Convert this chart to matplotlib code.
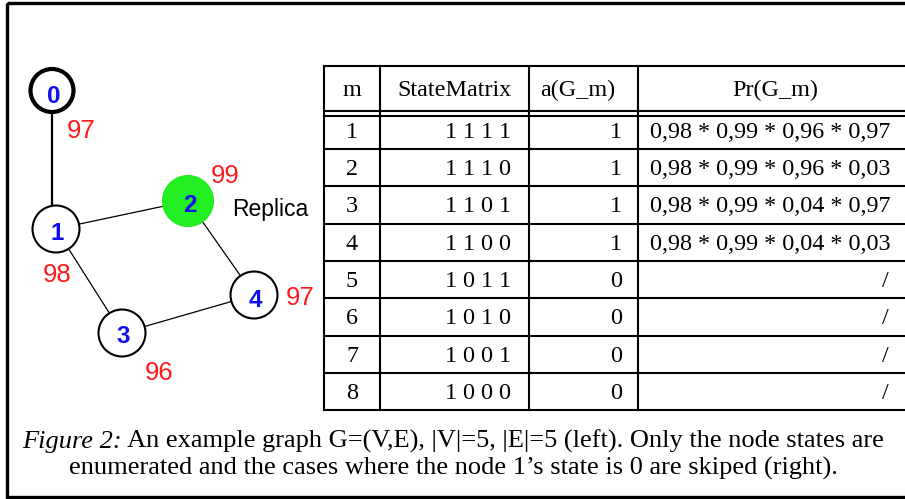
import matplotlib
matplotlib.use("Agg")
import matplotlib.pyplot as plt
from matplotlib.patches import Circle, Rectangle

# ---------------- data ----------------
node_ids = ["0", "1", "2", "3", "4"]
node_rel = ["97", "98", "99", "96", "97"]
edges = [("0", "1"), ("1", "2"), ("2", "4"), ("4", "3"), ("3", "1")]
replica_node = "2"
replica_label = "Replica"

col_headers = ["m", "StateMatrix", "a(G_m)", "Pr(G_m)"]
m_vals = ["1", "2", "3", "4", "5", "6", "7", "8"]
state_vals = ["1 1 1 1", "1 1 1 0", "1 1 0 1", "1 1 0 0",
              "1 0 1 1", "1 0 1 0", "1 0 0 1", "1 0 0 0"]
a_vals = ["1", "1", "1", "1", "0", "0", "0", "0"]
pr_vals = ["0,98 * 0,99 * 0,96 * 0,97", "0,98 * 0,99 * 0,96 * 0,03",
           "0,98 * 0,99 * 0,04 * 0,97", "0,98 * 0,99 * 0,04 * 0,03",
           "/", "/", "/", "/"]

caption_italic = "Figure 2:"
caption_line1 = " An example graph G=(V,E), |V|=5, |E|=5 (left). Only the node states are"
caption_line2 = "enumerated and the cases where the node 1\u2019s state is 0 are skiped (right)."

# ---------------- layout (pixel coordinates) ----------------
W, H = 905, 499
node_pos = {"0": (52, 90.5), "1": (56, 229), "2": (188, 201), "3": (122, 333), "4": (254, 295)}
node_r = {"0": 21.5, "1": 23.5, "2": 25, "3": 23.5, "4": 23.5}
digit_base = {"0": 103, "1": 240, "2": 212, "3": 343, "4": 307}
rel_pos = {"0": (81, 138), "1": (57, 282), "2": (225, 183), "3": (159, 380), "4": (300, 305)}

fig = plt.figure(figsize=(W / 100, H / 100), dpi=100)
ax = fig.add_axes([0, 0, 1, 1])
ax.set_xlim(0, W)
ax.set_ylim(H, 0)
ax.axis("off")

# outer frame
ax.add_patch(Rectangle((7, 3), 920, 494, fill=False, lw=2.4, ec="black"))

# edges
for a, b in edges:
    (x1, y1), (x2, y2) = node_pos[a], node_pos[b]
    lw = 1.6 if "0" in (a, b) else 0.9
    if "0" in (a, b):
        x2 = x1
    ax.plot([x1, x2], [y1, y2], color="black", lw=lw, zorder=1)

# nodes
for n in node_ids:
    x, y = node_pos[n]
    fc = "#22ee22" if n == replica_node else "white"
    ec = "#22ee22" if n == replica_node else "black"
    lw = 3.0 if n == "0" else 1.5
    ax.add_patch(Circle((x, y), node_r[n], fc=fc, ec=ec, lw=lw, zorder=2))
    ax.text(x + 1.5, digit_base[n], n, color="#1010ee", fontsize=17.5, fontweight="bold",
            family="Liberation Sans", ha="center", va="baseline", zorder=3)

for n, r in zip(node_ids, node_rel):
    x, y = rel_pos[n]
    ax.text(x, y, r, color="#ff1a1a", fontsize=18.5, family="Liberation Sans",
            ha="center", va="baseline")

ax.text(232, 216, replica_label, color="black", fontsize=16.5, family="Liberation Sans",
        ha="left", va="baseline")

# table
col_x = [324, 380, 529, 638]
top, head_bot, dbl = 66, 111, 116
row_lines = [dbl] + [149 + 37.3 * i for i in range(len(m_vals))]
bottom = row_lines[-1]

tlw = 1.5
for x in col_x:
    ax.plot([x, x], [top, bottom], color="black", lw=tlw, solid_capstyle="projecting")
for y in [top, head_bot] + row_lines:
    ax.plot([col_x[0], W + 10], [y, y], color="black", lw=tlw, solid_capstyle="projecting")

fs = 17.4
serif = "Liberation Serif"
head_cx = [352, 454.5, 578, 775]
for cx, h in zip(head_cx, col_headers):
    ax.text(cx, 96, h, fontsize=fs, family=serif, ha="center", va="baseline")

for i in range(len(m_vals)):
    yb = (row_lines[i] + row_lines[i + 1]) / 2 + 7.5
    if i == 0:
        yb = 138
    ax.text(352, yb, m_vals[i], fontsize=fs, family=serif, ha="center", va="baseline")
    ax.text(511, yb, state_vals[i], fontsize=fs, family=serif, ha="right", va="baseline")
    ax.text(622, yb, a_vals[i], fontsize=fs, family=serif, ha="right", va="baseline")
    if pr_vals[i] == "/":
        ax.text(889, yb, pr_vals[i], fontsize=fs, family=serif, ha="right", va="baseline")
    else:
        ax.text(650, yb, pr_vals[i], fontsize=fs, family=serif, ha="left", va="baseline")

# caption
cap_fs = 19.0
t1 = ax.text(22, 448, caption_italic, fontsize=cap_fs, family=serif, style="italic",
             ha="left", va="baseline")
fig.canvas.draw()
bb = t1.get_window_extent()
x_end = ax.transData.inverted().transform((bb.x1, bb.y0))[0]
ax.text(x_end, 448, caption_line1, fontsize=cap_fs, family=serif, ha="left", va="baseline")
ax.text(453, 475, caption_line2, fontsize=cap_fs, family=serif, ha="center", va="baseline")

fig.savefig("out.png", dpi=100)
